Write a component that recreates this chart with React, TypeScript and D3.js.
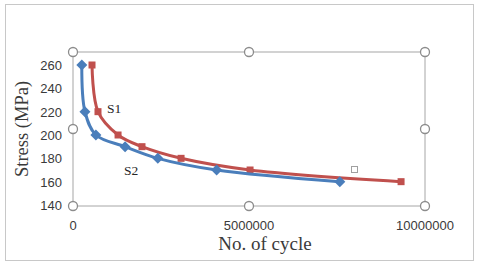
import React, { useRef, useEffect } from 'react';
import * as d3 from 'd3';

// S1 (red) and S2 (blue) S-N curves
const s1Cycles = [540000, 710000, 1280000, 1960000, 3070000, 5030000, 9320000];
const s1Stress = [260, 220, 200, 190, 180, 170, 160];
const s2Cycles = [250000, 340000, 650000, 1480000, 2410000, 4080000, 7580000];
const s2Stress = [260, 220, 200, 190, 180, 170, 160];
const yTicks = [140, 160, 180, 200, 220, 240, 260];
const xTicks = [0, 5000000, 10000000];

const width = 480;
const height = 265;

const App = () => {
  const svgRef = useRef<SVGSVGElement>(null);

  useEffect(() => {
    const svg = d3.select(svgRef.current);
    svg.selectAll('*').remove();

    const left = 73, right = 425, top = 52, bottom = 206;

    const x = d3.scaleLinear().domain([0, 10000000]).range([left, right]);
    const y = d3.scaleLinear().domain([140, 260]).range([205, 65]);

    // outer frame
    svg.append('rect')
      .attr('x', 5.5).attr('y', 4.5)
      .attr('width', 468).attr('height', 256)
      .attr('fill', 'white')
      .attr('stroke', '#c8c8c8');

    // selected plot area box
    svg.append('rect')
      .attr('x', left).attr('y', top)
      .attr('width', right - left).attr('height', bottom - top)
      .attr('fill', 'none')
      .attr('stroke', '#a6a6a6')
      .attr('stroke-width', 1);

    const handles: [number, number][] = [
      [left, top], [(left + right) / 2, top], [right, top],
      [left, (top + bottom) / 2], [right, (top + bottom) / 2],
      [left, bottom], [(left + right) / 2, bottom], [right, bottom],
    ];
    svg.selectAll('circle.handle')
      .data(handles)
      .enter()
      .append('circle')
      .attr('class', 'handle')
      .attr('cx', d => d[0])
      .attr('cy', d => d[1])
      .attr('r', 4.5)
      .attr('fill', 'white')
      .attr('stroke', '#8c8c8c')
      .attr('stroke-width', 1.3);

    // ticks
    svg.selectAll('text.ytick')
      .data(yTicks)
      .enter()
      .append('text')
      .attr('x', 62)
      .attr('y', d => y(d) + 5)
      .attr('text-anchor', 'end')
      .attr('font-family', 'Liberation Sans, Arial, sans-serif')
      .attr('font-size', 13)
      .attr('fill', '#3a3a3a')
      .text(d => d);

    svg.selectAll('text.xtick')
      .data(xTicks)
      .enter()
      .append('text')
      .attr('x', d => x(d))
      .attr('y', 230)
      .attr('text-anchor', 'middle')
      .attr('font-family', 'Liberation Sans, Arial, sans-serif')
      .attr('font-size', 13)
      .attr('fill', '#3a3a3a')
      .text(d => d);

    // axis titles
    svg.append('text')
      .attr('transform', `translate(28, 129) rotate(-90)`)
      .attr('text-anchor', 'middle')
      .attr('font-family', 'Liberation Serif, Times New Roman, serif')
      .attr('font-size', 18.5)
      .attr('fill', '#3a3a3a')
      .text('Stress (MPa)');

    svg.append('text')
      .attr('x', 265)
      .attr('y', 250)
      .attr('text-anchor', 'middle')
      .attr('font-family', 'Liberation Serif, Times New Roman, serif')
      .attr('font-size', 19)
      .attr('fill', '#3a3a3a')
      .text('No. of cycle');

    const line = d3.line<[number, number]>()
      .x(d => x(d[0]))
      .y(d => y(d[1]))
      .curve(d3.curveCatmullRom.alpha(0.5));

    const s1 = s1Cycles.map((c, i) => [c, s1Stress[i]] as [number, number]);
    const s2 = s2Cycles.map((c, i) => [c, s2Stress[i]] as [number, number]);

    // S1 red
    svg.append('path')
      .attr('d', line(s1))
      .attr('fill', 'none')
      .attr('stroke', '#c0504d')
      .attr('stroke-width', 3);
    svg.selectAll('rect.s1')
      .data(s1)
      .enter()
      .append('rect')
      .attr('class', 's1')
      .attr('x', d => x(d[0]) - 3.5)
      .attr('y', d => y(d[1]) - 3.5)
      .attr('width', 7)
      .attr('height', 7)
      .attr('fill', '#c0504d');

    // S2 blue
    svg.append('path')
      .attr('d', line(s2))
      .attr('fill', 'none')
      .attr('stroke', '#4a7ebb')
      .attr('stroke-width', 3);
    svg.selectAll('path.s2')
      .data(s2)
      .enter()
      .append('path')
      .attr('class', 's2')
      .attr('d', 'M0,-5.5L5.5,0L0,5.5L-5.5,0Z')
      .attr('transform', d => `translate(${x(d[0])},${y(d[1])})`)
      .attr('fill', '#4a7ebb');

    // series labels
    svg.append('text')
      .attr('x', 107).attr('y', 113)
      .attr('font-family', 'Liberation Serif, Times New Roman, serif')
      .attr('font-size', 13.5)
      .attr('fill', '#262626')
      .text('S1');
    svg.append('text')
      .attr('x', 124).attr('y', 175)
      .attr('font-family', 'Liberation Serif, Times New Roman, serif')
      .attr('font-size', 13.5)
      .attr('fill', '#262626')
      .text('S2');

    // small hollow marker
    svg.append('rect')
      .attr('x', 351.5).attr('y', 166.5)
      .attr('width', 6).attr('height', 6)
      .attr('fill', 'white')
      .attr('stroke', '#a0a0a0');
  }, []);

  return (
    <svg ref={svgRef} width={width} height={height}
      style={{ position: 'absolute', left: 0, top: 0 }} />
  );
};

export default App;
